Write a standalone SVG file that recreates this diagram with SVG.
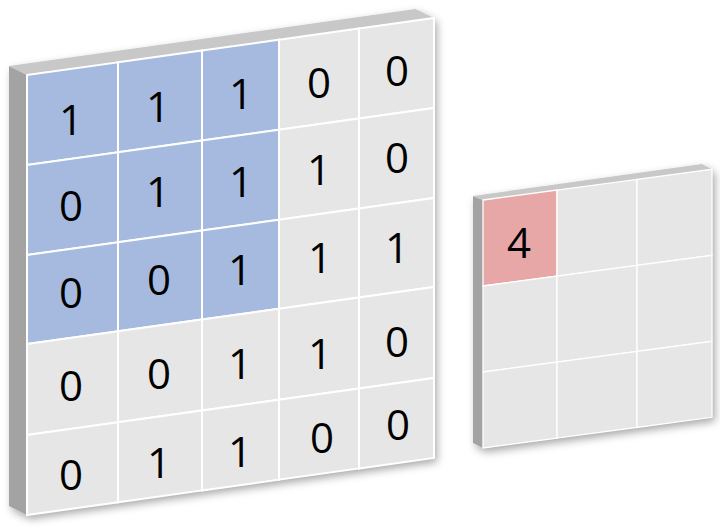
<svg xmlns="http://www.w3.org/2000/svg" width="720" height="530" viewBox="0 0 720 530">
<defs>
<filter id="shadow" x="-10%" y="-10%" width="130%" height="130%">
<feDropShadow dx="3" dy="4" stdDeviation="4" flood-color="#000" flood-opacity="0.35"/>
</filter>
<style>
.side{fill:#a3a3a3}
.top{fill:#c8c8c8}
.cell{fill:#e6e6e6;stroke:#ffffff;stroke-width:2;stroke-linejoin:miter}
.cell2{fill:#e6e6e6;stroke:#ffffff;stroke-width:1.3}
.blue{fill:#a6badf}
.pink{fill:#e8a7a7}
text{font-family:"Open Sans","Noto Sans","DejaVu Sans",sans-serif;font-size:42px;fill:#000;text-anchor:middle}
</style>
</defs>
<rect width="720" height="530" fill="#ffffff"/>
<g id="input-grid">
<g filter="url(#shadow)">
<polygon class="side" points="9,66 27,75 27,515 9,506"/>
<polygon class="top" points="9,66 415.5,9 434,18 27,75"/>
<polygon fill="#e6e6e6" points="27,75 434,18 434,458 27,515"/>
</g>
<g id="a-r1c1"><polygon class="cell blue" points="27,75 118,62.3 118,152.3 27,165"/><text x="71" y="135">1</text></g>
<g id="a-r1c2"><polygon class="cell blue" points="118,62.3 202,50.5 202,140.5 118,152.3"/><text x="158" y="122">1</text></g>
<g id="a-r1c3"><polygon class="cell blue" points="202,50.5 279,39.7 279,129.7 202,140.5"/><text x="241" y="109">1</text></g>
<g id="a-r1c4"><polygon class="cell" points="279,39.7 359,28.5 359,118.5 279,129.7"/><text x="319" y="98">0</text></g>
<g id="a-r1c5"><polygon class="cell" points="359,28.5 434,18 434,108 359,118.5"/><text x="397" y="86">0</text></g>
<g id="a-r2c1"><polygon class="cell blue" points="27,165 118,152.3 118,242.3 27,255"/><text x="71" y="221">0</text></g>
<g id="a-r2c2"><polygon class="cell blue" points="118,152.3 202,140.5 202,230.5 118,242.3"/><text x="158" y="207">1</text></g>
<g id="a-r2c3"><polygon class="cell blue" points="202,140.5 279,129.7 279,219.7 202,230.5"/><text x="241" y="197">1</text></g>
<g id="a-r2c4"><polygon class="cell" points="279,129.7 359,118.5 359,208.5 279,219.7"/><text x="319" y="185">1</text></g>
<g id="a-r2c5"><polygon class="cell" points="359,118.5 434,108 434,198 359,208.5"/><text x="397" y="173">0</text></g>
<g id="a-r3c1"><polygon class="cell blue" points="27,255 118,242.3 118,331.3 27,344"/><text x="71" y="308">0</text></g>
<g id="a-r3c2"><polygon class="cell blue" points="118,242.3 202,230.5 202,319.5 118,331.3"/><text x="159" y="295">0</text></g>
<g id="a-r3c3"><polygon class="cell blue" points="202,230.5 279,219.7 279,308.7 202,319.5"/><text x="240" y="285">1</text></g>
<g id="a-r3c4"><polygon class="cell" points="279,219.7 359,208.5 359,297.5 279,308.7"/><text x="320" y="273">1</text></g>
<g id="a-r3c5"><polygon class="cell" points="359,208.5 434,198 434,287 359,297.5"/><text x="397" y="263">1</text></g>
<g id="a-r4c1"><polygon class="cell" points="27,344 118,331.3 118,422.3 27,435"/><text x="71" y="401">0</text></g>
<g id="a-r4c2"><polygon class="cell" points="118,331.3 202,319.5 202,410.5 118,422.3"/><text x="159" y="389">0</text></g>
<g id="a-r4c3"><polygon class="cell" points="202,319.5 279,308.7 279,399.7 202,410.5"/><text x="240" y="379">1</text></g>
<g id="a-r4c4"><polygon class="cell" points="279,308.7 359,297.5 359,388.5 279,399.7"/><text x="320" y="369">1</text></g>
<g id="a-r4c5"><polygon class="cell" points="359,297.5 434,287 434,378 359,388.5"/><text x="397" y="357">0</text></g>
<g id="a-r5c1"><polygon class="cell" points="27,435 118,422.3 118,502.3 27,515"/><text x="71" y="490">0</text></g>
<g id="a-r5c2"><polygon class="cell" points="118,422.3 202,410.5 202,490.5 118,502.3"/><text x="159" y="478">1</text></g>
<g id="a-r5c3"><polygon class="cell" points="202,410.5 279,399.7 279,479.7 202,490.5"/><text x="240" y="467">1</text></g>
<g id="a-r5c4"><polygon class="cell" points="279,399.7 359,388.5 359,468.5 279,479.7"/><text x="322" y="453">0</text></g>
<g id="a-r5c5"><polygon class="cell" points="359,388.5 434,378 434,458 359,468.5"/><text x="398" y="440">0</text></g>
</g>
<g id="output-grid">
<g filter="url(#shadow)">
<polygon class="side" points="473,196 483,200 483,448 473,443"/>
<polygon class="top" points="473,196 702,164 712,169.3 483,200"/>
<polygon fill="#e6e6e6" points="483,200 712,169.3 712,417.3 483,448"/>
</g>
<g id="b-r1c1"><polygon class="cell2 pink" points="483,200 557,190.1 557,276.1 483,286"/><text x="519" y="258">4</text></g>
<g id="b-r1c2"><polygon class="cell2" points="557,190.1 637,179.4 637,265.4 557,276.1"/></g>
<g id="b-r1c3"><polygon class="cell2" points="637,179.4 712,169.3 712,255.3 637,265.4"/></g>
<g id="b-r2c1"><polygon class="cell2" points="483,286 557,276.1 557,362.1 483,372"/></g>
<g id="b-r2c2"><polygon class="cell2" points="557,276.1 637,265.4 637,351.4 557,362.1"/></g>
<g id="b-r2c3"><polygon class="cell2" points="637,265.4 712,255.3 712,341.3 637,351.4"/></g>
<g id="b-r3c1"><polygon class="cell2" points="483,372 557,362.1 557,438.1 483,448"/></g>
<g id="b-r3c2"><polygon class="cell2" points="557,362.1 637,351.4 637,427.4 557,438.1"/></g>
<g id="b-r3c3"><polygon class="cell2" points="637,351.4 712,341.3 712,417.3 637,427.4"/></g>
</g>
<g id="connectors"/>
</svg>
